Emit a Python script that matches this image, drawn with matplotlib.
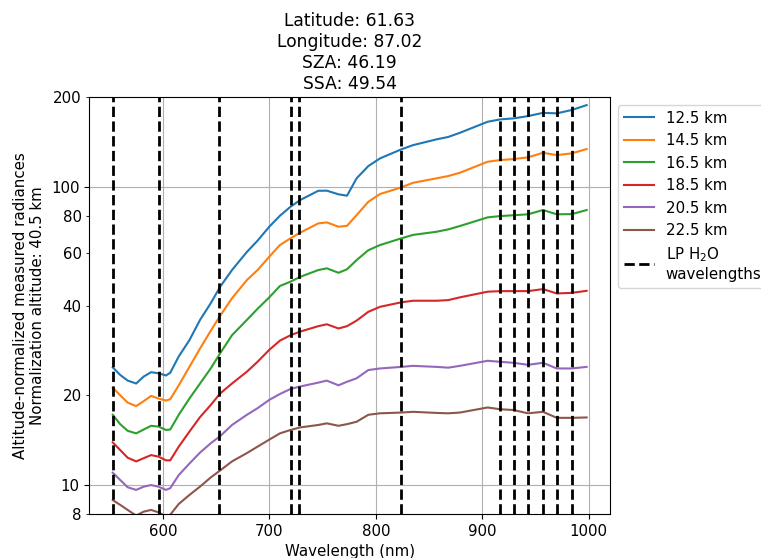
import numpy as np
import matplotlib
matplotlib.use("Agg")
import matplotlib.pyplot as plt

# wavelength grid (nm) used for every altitude
wavelength = [553, 560, 567, 575, 582, 589, 596, 603, 607, 615, 625, 635, 645, 654, 665,
              679, 689, 700, 710, 720, 729, 746, 754, 765, 773, 782, 793, 804, 824, 835,
              857, 868, 879, 905, 917, 929, 943, 957, 970, 984, 998]

# altitude-normalized radiances per tangent altitude
rad_12_5 = [24.8, 23.4, 22.4, 21.9, 23.1, 23.9, 23.7, 23.3, 23.8, 27.0, 30.6, 35.8, 40.7, 46.3, 52.6,
            60.5, 66.0, 73.5, 80.0, 85.8, 90.3, 97.0, 97.1, 94.4, 93.4, 106.8, 117.4, 124.6, 133.6, 138.0,
            144.3, 147.0, 151.8, 165.3, 168.4, 169.6, 172.7, 177.1, 176.4, 181.0, 188.0]
rad_14_5 = [21.2, 20.0, 18.9, 18.4, 19.1, 19.9, 19.5, 19.2, 19.4, 21.6, 24.9, 28.7, 32.9, 37.0, 42.3,
            48.7, 52.6, 58.3, 63.8, 67.2, 70.2, 75.4, 76.0, 73.5, 74.0, 80.4, 89.1, 94.6, 99.6, 103.2,
            106.8, 108.7, 111.5, 121.4, 123.0, 123.9, 125.6, 130.1, 127.8, 129.5, 133.9]
rad_16_5 = [17.2, 16.0, 15.2, 14.9, 15.35, 15.8, 15.7, 15.3, 15.35, 17.2, 19.5, 21.9, 24.6, 27.7, 31.8,
            35.8, 39.0, 42.6, 46.5, 48.1, 49.9, 52.6, 53.3, 51.5, 52.9, 56.8, 61.3, 63.8, 67.2, 69.0,
            70.7, 72.0, 73.9, 79.0, 79.8, 80.3, 80.9, 83.6, 80.9, 81.0, 83.6]
rad_18_5 = [13.9, 13.1, 12.35, 12.0, 12.3, 12.6, 12.45, 12.1, 12.1, 13.45, 15.1, 16.9, 18.55, 20.3, 21.9,
            24.0, 25.9, 28.4, 30.5, 31.8, 32.7, 34.1, 34.6, 33.5, 34.1, 35.6, 38.1, 39.6, 41.0, 41.5,
            41.5, 41.7, 42.6, 44.5, 44.7, 44.7, 44.7, 45.4, 43.9, 44.1, 44.8]
rad_20_5 = [11.0, 10.4, 9.83, 9.63, 9.87, 10.0, 9.87, 9.63, 9.76, 10.8, 11.8, 12.85, 13.8, 14.6, 15.9,
            17.2, 18.1, 19.3, 20.2, 21.0, 21.4, 22.05, 22.4, 21.6, 22.2, 22.8, 24.3, 24.6, 24.9, 25.1,
            24.9, 24.75, 25.1, 26.1, 25.9, 25.7, 25.3, 25.7, 24.6, 24.6, 24.9]
rad_22_5 = [8.9, 8.58, 8.25, 7.9, 8.14, 8.25, 8.1, 7.85, 7.95, 8.64, 9.26, 9.88, 10.6, 11.2, 12.0,
            12.8, 13.45, 14.2, 14.9, 15.3, 15.6, 15.9, 16.1, 15.8, 16.0, 16.3, 17.2, 17.4, 17.5, 17.6,
            17.45, 17.4, 17.5, 18.2, 17.95, 17.85, 17.4, 17.6, 16.8, 16.8, 16.85]

altitudes = ["12.5 km", "14.5 km", "16.5 km", "18.5 km", "20.5 km", "22.5 km"]
radiances = [rad_12_5, rad_14_5, rad_16_5, rad_18_5, rad_20_5, rad_22_5]

# limb-profile water vapour wavelengths
lp_h2o = [553, 596, 653, 720, 728, 824, 917, 930, 943, 957, 970, 984]

lat, lon, sza, ssa = 61.63, 87.02, 46.19, 49.54
norm_alt = 40.5

plt.rcParams["font.size"] = 10.8

fig = plt.figure(figsize=(7.61, 5.58), dpi=100)
ax = fig.add_axes([0.117, 0.079, 0.685, 0.747])

for alt, rad in zip(altitudes, radiances):
    ax.plot(wavelength, rad, label=alt)

for i, wl in enumerate(lp_h2o):
    ax.axvline(wl, color="k", linestyle="--", linewidth=2,
               label="LP H$_2$O\nwavelengths" if i == 0 else None)

ax.set_yscale("log")
ax.set_ylim(8, 200)

# only 10 and 100 get grid lines, the rest are labelled minor ticks
ax.set_yticks([10, 100])
ax.set_yticklabels(["10", "100"])
ax.set_yticks([8, 20, 40, 60, 80, 200], minor=True)
ax.set_yticklabels(["8", "20", "40", "60", "80", "200"], minor=True)
ax.set_xticks([600, 700, 800, 900, 1000])
ax.grid(True, which="major")

ax.set_xlabel("Wavelength (nm)")
ax.set_ylabel("Altitude-normalized measured radiances\nNormalization altitude: %.1f km" % norm_alt)
ax.set_title("Latitude: %.2f\nLongitude: %.2f\nSZA: %.2f\nSSA: %.2f" % (lat, lon, sza, ssa),
             fontsize=12.3)

ax.legend(loc="upper left", bbox_to_anchor=(1, 1))

fig.savefig("out.png", dpi=100)
